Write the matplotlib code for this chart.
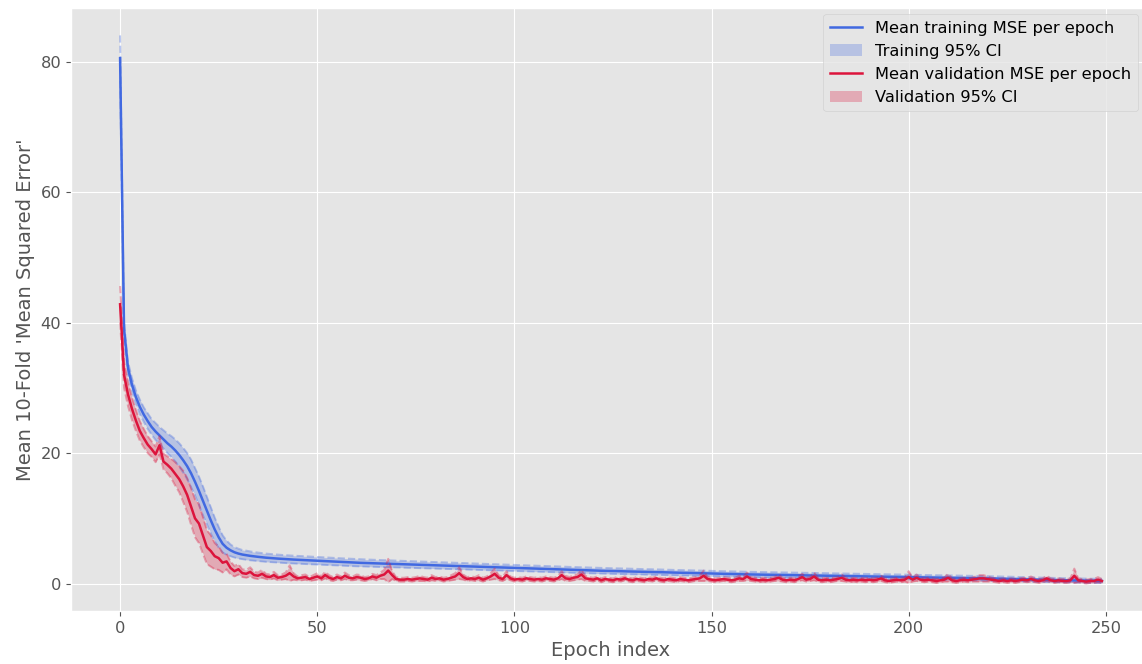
import numpy as np
import matplotlib.pyplot as plt

plt.style.use('ggplot')
plt.rcParams['font.size'] = 11.7

# mean 10-fold MSE per epoch (epochs 0..249)
train_mean = [
    80.5, 39.0, 33.0, 30.5, 28.6, 27.1, 25.9, 24.9, 24.0, 23.3,
    22.7, 22.1, 21.5, 21.0, 20.4, 19.7, 18.9, 18.0, 16.9, 15.6,
    14.2, 12.7, 11.2, 9.7, 8.3, 7.1, 6.1, 5.5, 5.1, 4.8,
    4.6, 4.45, 4.35, 4.25, 4.17, 4.1, 4.03, 3.97, 3.92, 3.87,
    3.83, 3.79, 3.75, 3.71, 3.68, 3.65, 3.62, 3.59, 3.56, 3.53,
    3.5, 3.47, 3.44, 3.41, 3.38, 3.35, 3.32, 3.29, 3.26, 3.23,
    3.2, 3.18, 3.16, 3.14, 3.12, 3.1, 3.08, 3.06, 3.04, 3.02,
    3.0, 2.98, 2.96, 2.94, 2.92, 2.9, 2.88, 2.86, 2.84, 2.82,
    2.8, 2.78, 2.76, 2.74, 2.72, 2.7, 2.68, 2.66, 2.64, 2.62,
    2.6, 2.58, 2.56, 2.54, 2.52, 2.5, 2.48, 2.46, 2.44, 2.42,
    2.4, 2.38, 2.36, 2.34, 2.32, 2.3, 2.28, 2.26, 2.24, 2.22,
    2.2, 2.18, 2.16, 2.14, 2.12, 2.1, 2.08, 2.06, 2.04, 2.02,
    2.0, 1.98, 1.97, 1.95, 1.94, 1.92, 1.91, 1.89, 1.88, 1.86,
    1.85, 1.83, 1.82, 1.8, 1.79, 1.77, 1.76, 1.74, 1.73, 1.71,
    1.7, 1.68, 1.67, 1.65, 1.64, 1.62, 1.61, 1.59, 1.58, 1.56,
    1.55, 1.53, 1.52, 1.5, 1.49, 1.47, 1.46, 1.44, 1.43, 1.41,
    1.4, 1.39, 1.38, 1.37, 1.36, 1.35, 1.34, 1.33, 1.32, 1.31,
    1.3, 1.29, 1.28, 1.27, 1.26, 1.25, 1.24, 1.23, 1.22, 1.21,
    1.2, 1.19, 1.18, 1.17, 1.16, 1.15, 1.14, 1.13, 1.12, 1.11,
    1.1, 1.09, 1.08, 1.07, 1.06, 1.05, 1.04, 1.03, 1.02, 1.01,
    1.0, 0.99, 0.98, 0.97, 0.96, 0.95, 0.94, 0.93, 0.92, 0.91,
    0.9, 0.89, 0.88, 0.87, 0.86, 0.85, 0.84, 0.83, 0.82, 0.81,
    0.8, 0.78, 0.77, 0.75, 0.74, 0.72, 0.71, 0.69, 0.68, 0.66,
    0.65, 0.63, 0.62, 0.6, 0.59, 0.57, 0.56, 0.54, 0.53, 0.51,
    0.5, 0.49, 0.48, 0.47, 0.46, 0.45, 0.44, 0.43, 0.42, 0.4,
]

# half width of the 95% CI
train_ci = [
    3.5, 1.2, 1.0, 1.0, 1.0, 1.1, 1.1, 1.2, 1.2, 1.3,
    1.3, 1.4, 1.5, 1.6, 1.7, 1.8, 1.9, 2.0, 2.1, 2.1,
    2.2, 2.2, 2.1, 2.0, 1.8, 1.6, 1.3, 1.1, 0.9, 0.8,
    0.75, 0.7, 0.7, 0.68, 0.66, 0.65, 0.64, 0.63, 0.62, 0.62,
    0.61, 0.61, 0.6, 0.6, 0.6, 0.6, 0.59, 0.59, 0.59, 0.58,
    0.58, 0.58, 0.57, 0.57, 0.57, 0.56, 0.56, 0.56, 0.55, 0.55,
    0.55, 0.55, 0.54, 0.54, 0.54, 0.54, 0.53, 0.53, 0.53, 0.53,
    0.52, 0.52, 0.52, 0.52, 0.51, 0.51, 0.51, 0.51, 0.5, 0.5,
    0.5, 0.5, 0.5, 0.5, 0.49, 0.49, 0.49, 0.49, 0.49, 0.48,
    0.48, 0.48, 0.48, 0.48, 0.47, 0.47, 0.47, 0.47, 0.47, 0.47,
    0.46, 0.46, 0.46, 0.46, 0.46, 0.46, 0.45, 0.45, 0.45, 0.45,
    0.45, 0.45, 0.45, 0.44, 0.44, 0.44, 0.44, 0.44, 0.44, 0.44,
    0.44, 0.43, 0.43, 0.43, 0.43, 0.43, 0.43, 0.43, 0.43, 0.43,
    0.42, 0.42, 0.42, 0.42, 0.42, 0.42, 0.42, 0.42, 0.42, 0.42,
    0.41, 0.41, 0.41, 0.41, 0.41, 0.41, 0.41, 0.41, 0.41, 0.41,
    0.4, 0.4, 0.4, 0.4, 0.4, 0.4, 0.4, 0.4, 0.4, 0.4,
    0.4, 0.4, 0.4, 0.4, 0.4, 0.4, 0.4, 0.4, 0.4, 0.4,
    0.39, 0.39, 0.39, 0.39, 0.39, 0.39, 0.39, 0.39, 0.39, 0.39,
    0.38, 0.38, 0.38, 0.38, 0.38, 0.38, 0.38, 0.38, 0.38, 0.38,
    0.37, 0.37, 0.37, 0.37, 0.37, 0.37, 0.37, 0.37, 0.37, 0.37,
    0.36, 0.36, 0.36, 0.36, 0.36, 0.36, 0.36, 0.36, 0.36, 0.36,
    0.35, 0.35, 0.35, 0.35, 0.35, 0.35, 0.35, 0.35, 0.35, 0.35,
    0.34, 0.34, 0.34, 0.34, 0.34, 0.34, 0.34, 0.34, 0.34, 0.34,
    0.33, 0.33, 0.33, 0.33, 0.33, 0.33, 0.33, 0.33, 0.33, 0.33,
    0.32, 0.32, 0.32, 0.32, 0.32, 0.32, 0.32, 0.32, 0.32, 0.32,
]

val_mean = [
    42.8, 32.0, 29.0, 26.8, 25.0, 23.4, 22.3, 21.3, 20.6, 19.8,
    21.2, 18.7, 18.2, 17.6, 16.8, 16.0, 14.9, 13.6, 11.8, 10.0,
    9.2, 7.4, 5.6, 5.0, 4.2, 3.9, 3.2, 3.4, 2.4, 1.9,
    2.2, 1.6, 1.5, 1.8, 1.3, 1.2, 1.5, 1.1, 1.0, 1.3,
    0.9, 1.0, 1.2, 1.6, 1.1, 0.8, 0.9, 1.0, 0.7, 0.9,
    1.1, 0.8, 1.3, 0.9, 0.7, 1.0, 0.8, 1.2, 0.9, 0.8,
    1.0, 0.9, 0.7, 0.8, 1.1, 0.9, 1.2, 1.4, 2.0, 1.3,
    0.7, 0.6, 0.6, 0.7, 0.6, 0.7, 0.8, 0.7, 0.6, 0.9,
    0.7, 0.8, 0.6, 0.7, 0.9, 1.1, 1.6, 1.0, 0.7, 0.8,
    0.7, 0.9, 0.6, 0.8, 1.1, 1.5, 0.9, 0.7, 1.3, 0.8,
    0.6, 0.7, 0.6, 0.8, 0.7, 0.6, 0.7, 0.6, 0.8, 0.7,
    0.6, 0.8, 1.3, 0.8, 0.7, 0.9, 1.0, 1.4, 0.8, 0.7,
    0.6, 0.8, 0.5, 0.7, 0.6, 0.5, 0.7, 0.6, 0.8, 0.6,
    0.5, 0.7, 0.6, 0.5, 0.7, 0.6, 0.8, 0.6, 0.5, 0.7,
    0.6, 0.5, 0.7, 0.6, 0.5, 0.6, 0.7, 0.8, 1.2, 0.7,
    0.6, 0.5, 0.6, 0.7, 0.6, 0.5, 0.6, 0.8, 0.7, 1.1,
    0.7, 0.6, 0.5, 0.6, 0.5, 0.6, 0.7, 0.9, 0.6, 0.5,
    0.6, 0.5, 0.7, 1.0, 0.6, 0.7, 1.1, 0.6, 0.5, 0.6,
    0.5, 0.6, 0.7, 0.9, 0.6, 0.5, 0.6, 0.5, 0.6, 0.5,
    0.6, 0.5, 0.6, 0.8, 0.5, 0.4, 0.5, 0.6, 0.5, 0.6,
    1.0, 0.6, 0.9, 0.6, 0.5, 0.6, 0.5, 0.4, 0.5, 0.6,
    0.9, 0.5, 0.4, 0.5, 0.6, 0.5, 0.6, 0.7, 0.8, 0.8,
    0.7, 0.6, 0.5, 0.4, 0.5, 0.4, 0.5, 0.4, 0.5, 0.6,
    0.5, 0.7, 0.5, 0.4, 0.5, 0.8, 0.5, 0.4, 0.5, 0.4,
    0.4, 0.5, 1.2, 0.5, 0.4, 0.3, 0.4, 0.4, 0.6, 0.4,
]

val_ci = [
    2.8, 2.0, 1.8, 1.7, 1.6, 1.5, 1.4, 1.3, 1.2, 1.2,
    1.4, 1.2, 1.3, 1.5, 1.8, 2.0, 2.4, 2.6, 2.8, 2.9,
    3.0, 2.8, 2.6, 2.4, 2.0, 1.8, 1.5, 1.2, 1.0, 0.8,
    0.8, 0.6, 0.6, 0.7, 0.5, 0.5, 0.6, 0.4, 0.4, 0.5,
    0.4, 0.4, 0.5, 1.2, 0.5, 0.3, 0.4, 0.4, 0.3, 0.4,
    0.5, 0.3, 0.5, 0.4, 0.3, 0.4, 0.3, 0.5, 0.4, 0.3,
    0.4, 0.4, 0.3, 0.3, 0.4, 0.4, 0.5, 0.7, 1.8, 0.6,
    0.3, 0.3, 0.3, 0.3, 0.3, 0.3, 0.4, 0.3, 0.3, 0.4,
    0.3, 0.3, 0.3, 0.3, 0.4, 0.5, 0.9, 0.4, 0.3, 0.3,
    0.3, 0.4, 0.3, 0.3, 0.5, 0.8, 0.4, 0.3, 0.6, 0.3,
    0.3, 0.3, 0.3, 0.3, 0.3, 0.3, 0.3, 0.3, 0.3, 0.3,
    0.3, 0.3, 0.6, 0.4, 0.3, 0.4, 0.4, 0.7, 0.4, 0.3,
    0.3, 0.3, 0.3, 0.3, 0.3, 0.3, 0.3, 0.3, 0.3, 0.3,
    0.3, 0.3, 0.3, 0.3, 0.3, 0.3, 0.3, 0.3, 0.3, 0.3,
    0.3, 0.3, 0.3, 0.3, 0.3, 0.3, 0.3, 0.4, 0.8, 0.3,
    0.3, 0.3, 0.3, 0.3, 0.3, 0.3, 0.3, 0.4, 0.3, 0.6,
    0.3, 0.3, 0.3, 0.3, 0.3, 0.3, 0.3, 0.5, 0.3, 0.3,
    0.3, 0.3, 0.3, 0.5, 0.3, 0.3, 0.6, 0.3, 0.3, 0.3,
    0.3, 0.3, 0.3, 0.5, 0.3, 0.3, 0.3, 0.3, 0.3, 0.3,
    0.3, 0.3, 0.3, 0.4, 0.3, 0.3, 0.3, 0.3, 0.3, 0.3,
    0.9, 0.3, 0.5, 0.3, 0.3, 0.3, 0.3, 0.3, 0.3, 0.3,
    0.6, 0.3, 0.3, 0.3, 0.3, 0.3, 0.3, 0.4, 0.5, 0.5,
    0.4, 0.3, 0.3, 0.3, 0.3, 0.3, 0.3, 0.3, 0.3, 0.3,
    0.3, 0.4, 0.3, 0.3, 0.3, 0.4, 0.3, 0.3, 0.3, 0.3,
    0.3, 0.3, 1.1, 0.3, 0.3, 0.3, 0.3, 0.3, 0.4, 0.3,
]

epochs = np.arange(len(train_mean))
tm, tc = np.array(train_mean), np.array(train_ci)
vm, vc = np.array(val_mean), np.array(val_ci)

W, H = 1142, 664
fig = plt.figure(figsize=(W / 100, H / 100), dpi=100)
ax = fig.add_axes([71 / W, (H - 611) / H, (1151 - 71) / W, (611 - 8) / H])

blue, red = 'royalblue', 'crimson'

ax.plot(epochs, tm, color=blue, lw=1.8, label='Mean training MSE per epoch')
ax.fill_between(epochs, tm - tc, tm + tc, color=blue, alpha=0.28, lw=0,
                label='Training 95% CI')
ax.plot(epochs, tm + tc, color=blue, lw=1.4, ls='--', alpha=0.35)
ax.plot(epochs, tm - tc, color=blue, lw=1.4, ls='--', alpha=0.35)

ax.plot(epochs, vm, color=red, lw=1.8, label='Mean validation MSE per epoch')
ax.fill_between(epochs, vm - vc, vm + vc, color=red, alpha=0.28, lw=0,
                label='Validation 95% CI')
ax.plot(epochs, vm + vc, color=red, lw=1.4, ls='--', alpha=0.35)
ax.plot(epochs, vm - vc, color=red, lw=1.4, ls='--', alpha=0.35)

ax.set_xticks([0, 50, 100, 150, 200, 250])
ax.set_yticks([0, 20, 40, 60, 80])
ax.set_xlabel('Epoch index')
ax.set_ylabel("Mean 10-Fold 'Mean Squared Error'")

ax.legend(loc='upper right', bbox_to_anchor=(1138 / W, 1 - 14 / H),
          bbox_transform=fig.transFigure, borderaxespad=0)

fig.savefig('out.png', dpi=100)
